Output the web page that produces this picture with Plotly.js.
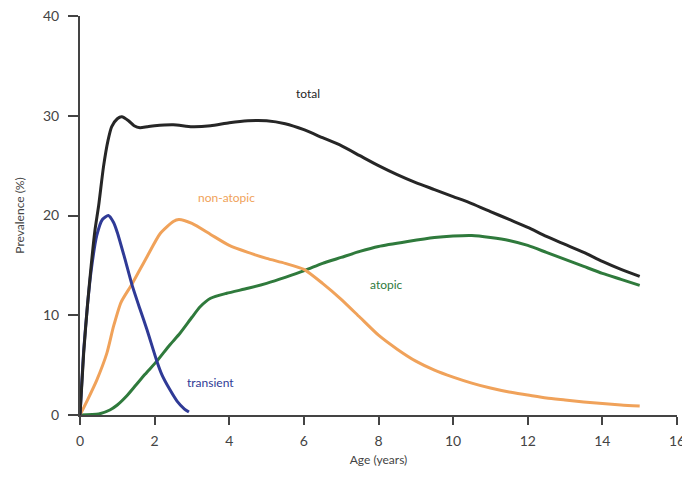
<!DOCTYPE html>
<html>
<head>
<meta charset="utf-8">
<script src="https://cdn.plot.ly/plotly-3.0.1.min.js"></script>
<style>html,body{margin:0;padding:0;background:#fff;}#chart{width:682px;height:477px;}</style>
</head>
<body>
<div id="chart"></div>
<script>
// Age (years) and prevalence (%)
var totalAge = [0, 0.1, 0.2, 0.3, 0.4, 0.5, 0.63, 0.75, 0.85, 1.0, 1.12, 1.3, 1.45, 1.61, 1.8, 2.0, 2.5, 3.0, 3.5, 4.0, 4.5, 5.0, 5.5, 6.0, 6.5, 7.0, 7.5, 8.0, 8.5, 9.0, 9.5, 10.0, 10.5, 11.0, 11.5, 12.0, 12.5, 13.0, 13.5, 14.0, 14.5, 15.0];
var totalVal = [0, 6.3, 11, 15, 18.5, 21, 24.9, 27.5, 28.9, 29.7, 29.9, 29.5, 29.0, 28.8, 28.9, 29.0, 29.1, 28.9, 29.0, 29.3, 29.5, 29.5, 29.2, 28.6, 27.8, 27.0, 26.0, 25.0, 24.1, 23.3, 22.6, 21.9, 21.2, 20.4, 19.6, 18.8, 17.9, 17.1, 16.3, 15.4, 14.6, 13.9];

var transientAge = [0, 0.1, 0.2, 0.3, 0.45, 0.6, 0.76, 0.9, 1.0, 1.2, 1.39, 1.6, 1.8, 2.06, 2.2, 2.4, 2.6, 2.8, 2.92];
var transientVal = [0, 6.5, 11, 14.5, 18, 19.6, 20, 19.3, 18.3, 15.7, 13.1, 10.7, 8.5, 5.4, 4.0, 2.6, 1.4, 0.6, 0.3];

var nonAtopicAge = [0, 0.2, 0.45, 0.72, 0.9, 1.1, 1.39, 1.8, 2.15, 2.5, 2.65, 3.0, 3.5, 4.0, 4.5, 5.0, 5.5, 6.0, 6.5, 7.0, 7.5, 8.0, 8.5, 9.0, 9.5, 10.0, 10.5, 11.0, 11.5, 12.0, 12.5, 13.0, 13.5, 14.0, 14.5, 15.0];
var nonAtopicVal = [0, 1.5, 3.5, 6.2, 8.9, 11.3, 13.1, 15.9, 18.2, 19.4, 19.6, 19.2, 18.1, 17.0, 16.3, 15.7, 15.2, 14.6, 13.2, 11.6, 9.8, 8.0, 6.6, 5.4, 4.5, 3.8, 3.2, 2.7, 2.3, 2.0, 1.7, 1.5, 1.3, 1.15, 1.0, 0.9];

var atopicAge = [0, 0.5, 0.8, 1.0, 1.25, 1.5, 1.75, 2.06, 2.4, 2.68, 3.0, 3.22, 3.5, 3.93, 4.5, 5.0, 5.5, 6.03, 6.5, 7.0, 7.5, 8.0, 8.78, 9.5, 10.0, 10.5, 11.0, 11.5, 12.0, 12.5, 13.0, 13.5, 14.0, 14.5, 15.0];
var atopicVal = [0, 0.1, 0.5, 1.0, 1.9, 3.0, 4.1, 5.4, 7.0, 8.2, 9.8, 10.85, 11.7, 12.2, 12.7, 13.2, 13.8, 14.5, 15.2, 15.8, 16.4, 16.9, 17.4, 17.8, 17.95, 18.0, 17.8, 17.5, 17.0, 16.3, 15.6, 14.9, 14.2, 13.6, 13.0];

var xTicks = [0, 2, 4, 6, 8, 10, 12, 14, 16];
var yTicks = [0, 10, 20, 30, 40];

var labelText = ['total', 'non-atopic', 'atopic', 'transient'];
var labelAge = [6.11, 3.93, 8.21, 3.5];
var labelVal = [32.2, 21.8, 13.1, 3.3];

var cBlack = '#262626', cBlue = '#2f3a96', cOrange = '#f0a25a', cGreen = '#2f7a3c';
var labelColors = [cBlack, cOrange, cGreen, cBlue];

function line(x, y, color) {
  return {x: x, y: y, type: 'scatter', mode: 'lines',
          line: {color: color, width: 3, shape: 'spline', smoothing: 0.6},
          hoverinfo: 'skip', showlegend: false};
}

var data = [
  line(atopicAge, atopicVal, cGreen),
  line(nonAtopicAge, nonAtopicVal, cOrange),
  line(transientAge, transientVal, cBlue),
  line(totalAge, totalVal, cBlack)
];

var annotations = labelText.map(function (t, i) {
  return {x: labelAge[i], y: labelVal[i], xref: 'x', yref: 'y', text: t,
          showarrow: false, font: {family: 'Lato, sans-serif', size: 12, color: labelColors[i]}};
});

var layout = {
  width: 682, height: 477,
  margin: {l: 80, r: 4.6, t: 16, b: 61.7},
  paper_bgcolor: '#fff', plot_bgcolor: '#fff',
  font: {family: 'Lato, sans-serif', color: '#444'},
  xaxis: {
    range: [0, 16], tickvals: xTicks, ticktext: xTicks.map(String),
    showgrid: false, zeroline: false, showline: true, linecolor: '#444', linewidth: 2,
    ticks: 'outside', ticklen: 8, tickwidth: 2, tickcolor: '#444',
    tickfont: {size: 14, color: '#444'}, ticklabelstandoff: 4, ticklabeloverflow: 'allow',
    title: {text: 'Age (years)', font: {size: 12, color: '#444'}, standoff: 8}
  },
  yaxis: {
    range: [0, 40], tickvals: yTicks, ticktext: yTicks.map(String),
    showgrid: false, zeroline: false, showline: true, linecolor: '#444', linewidth: 2,
    ticks: 'outside', ticklen: 10, tickwidth: 2, tickcolor: '#444',
    tickfont: {size: 14, color: '#444'}, ticklabelstandoff: 6,
    title: {text: 'Prevalence (%)', font: {size: 12, color: '#444'}, standoff: 16}
  },
  annotations: annotations
};

Plotly.newPlot('chart', data, layout, {displayModeBar: false, staticPlot: true});
</script>
</body>
</html>
